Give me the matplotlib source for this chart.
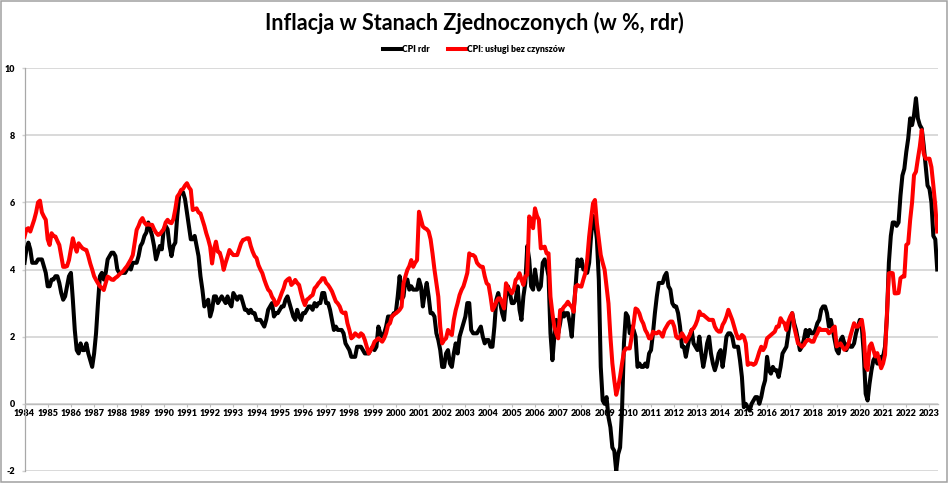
import matplotlib
matplotlib.use('Agg')
import matplotlib.pyplot as plt
import numpy as np
from matplotlib.patches import Rectangle
from matplotlib.lines import Line2D

plt.rcParams['font.family'] = ['Lato', 'DejaVu Sans']

title = 'Inflacja w Stanach Zjednoczonych (w %, rdr)'
series_names = ['CPI rdr', 'CPI: usługi bez czynszów']
start_year = 1984  # monthly data, January 1984 - May 2023

cpi_rdr = [
    4.2, 4.6, 4.8, 4.6, 4.2, 4.2, 4.2, 4.3, 4.3, 4.3, 4.1, 3.9,   # 1984
    3.5, 3.5, 3.7, 3.7, 3.8, 3.8, 3.6, 3.3, 3.1, 3.2, 3.5, 3.8,   # 1985
    3.9, 3.1, 2.2, 1.6, 1.5, 1.8, 1.6, 1.6, 1.8, 1.5, 1.3, 1.1,   # 1986
    1.5, 2.1, 3.0, 3.8, 3.9, 3.7, 3.9, 4.3, 4.4, 4.5, 4.5, 4.4,   # 1987
    4.0, 3.9, 3.9, 3.9, 3.9, 4.0, 4.1, 4.0, 4.2, 4.2, 4.2, 4.4,   # 1988
    4.7, 4.8, 5.0, 5.1, 5.4, 5.2, 5.0, 4.7, 4.3, 4.5, 4.7, 4.6,   # 1989
    5.2, 5.3, 5.2, 4.7, 4.4, 4.7, 4.8, 5.6, 6.2, 6.3, 6.3, 6.1,   # 1990
    5.7, 5.3, 4.9, 4.9, 5.0, 4.7, 4.4, 3.8, 3.4, 2.9, 3.0, 3.1,   # 1991
    2.6, 2.8, 3.2, 3.2, 3.0, 3.1, 3.2, 3.1, 3.0, 3.2, 3.0, 2.9,   # 1992
    3.3, 3.2, 3.1, 3.2, 3.2, 3.0, 2.8, 2.8, 2.7, 2.8, 2.7, 2.7,   # 1993
    2.5, 2.5, 2.5, 2.4, 2.3, 2.5, 2.8, 2.9, 3.0, 2.6, 2.7, 2.7,   # 1994
    2.8, 2.9, 2.9, 3.1, 3.2, 3.0, 2.8, 2.6, 2.5, 2.8, 2.6, 2.5,   # 1995
    2.7, 2.7, 2.8, 2.9, 2.9, 2.8, 3.0, 2.9, 3.0, 3.0, 3.3, 3.3,   # 1996
    3.0, 3.0, 2.8, 2.5, 2.2, 2.3, 2.2, 2.2, 2.2, 2.1, 1.8, 1.7,   # 1997
    1.6, 1.4, 1.4, 1.4, 1.7, 1.7, 1.7, 1.6, 1.5, 1.5, 1.5, 1.6,   # 1998
    1.7, 1.6, 1.7, 2.3, 2.1, 2.0, 2.1, 2.3, 2.6, 2.6, 2.6, 2.7,   # 1999
    2.7, 3.2, 3.8, 3.1, 3.2, 3.7, 3.7, 3.4, 3.5, 3.4, 3.4, 3.4,   # 2000
    3.7, 3.5, 2.9, 3.3, 3.6, 3.2, 2.7, 2.7, 2.6, 2.1, 1.9, 1.6,   # 2001
    1.1, 1.1, 1.5, 1.6, 1.2, 1.1, 1.5, 1.8, 1.5, 2.0, 2.2, 2.4,   # 2002
    2.6, 3.0, 3.0, 2.2, 2.1, 2.1, 2.1, 2.2, 2.3, 2.0, 1.8, 1.9,   # 2003
    1.9, 1.7, 1.7, 2.3, 3.1, 3.3, 3.0, 2.7, 2.5, 3.2, 3.5, 3.3,   # 2004
    3.0, 3.0, 3.1, 3.5, 2.8, 2.5, 3.2, 3.6, 4.7, 4.3, 3.5, 3.4,   # 2005
    4.0, 3.6, 3.4, 3.5, 4.2, 4.3, 4.1, 3.8, 2.1, 1.3, 2.0, 2.5,   # 2006
    2.1, 2.4, 2.8, 2.6, 2.7, 2.7, 2.4, 2.0, 2.8, 3.5, 4.3, 4.1,   # 2007
    4.3, 4.0, 4.0, 3.9, 4.2, 5.0, 5.6, 5.4, 4.9, 3.7, 1.1, 0.1,   # 2008
    0.0, 0.2, -0.4, -0.7, -1.3, -1.4, -2.0, -1.5, -1.3, -0.2, 1.8, 2.7,  # 2009
    2.6, 2.1, 2.3, 2.2, 2.0, 1.1, 1.2, 1.1, 1.1, 1.2, 1.1, 1.5,   # 2010
    1.6, 2.1, 2.7, 3.2, 3.6, 3.6, 3.6, 3.8, 3.9, 3.5, 3.4, 3.0,   # 2011
    2.9, 2.9, 2.7, 2.3, 1.7, 1.7, 1.4, 1.7, 2.0, 2.2, 1.8, 1.7,   # 2012
    1.6, 2.0, 1.5, 1.1, 1.4, 1.8, 2.0, 1.5, 1.2, 1.0, 1.2, 1.5,   # 2013
    1.6, 1.1, 1.5, 2.0, 2.1, 2.1, 2.0, 1.7, 1.7, 1.7, 1.3, 0.8,   # 2014
    -0.1, 0.0, -0.1, -0.2, 0.0, 0.1, 0.2, 0.2, 0.0, 0.2, 0.5, 0.7,  # 2015
    1.4, 1.0, 0.9, 1.1, 1.0, 1.0, 0.8, 1.1, 1.5, 1.6, 1.7, 2.1,   # 2016
    2.5, 2.7, 2.4, 2.2, 1.9, 1.6, 1.7, 1.9, 2.2, 2.0, 2.2, 2.1,   # 2017
    2.1, 2.2, 2.4, 2.5, 2.8, 2.9, 2.9, 2.7, 2.3, 2.5, 2.2, 1.9,   # 2018
    1.6, 1.5, 1.9, 2.0, 1.8, 1.6, 1.8, 1.7, 1.7, 1.8, 2.1, 2.3,   # 2019
    2.5, 2.3, 1.5, 0.3, 0.1, 0.6, 1.0, 1.3, 1.4, 1.2, 1.2, 1.4,   # 2020
    1.4, 1.7, 2.6, 4.2, 5.0, 5.4, 5.4, 5.3, 5.4, 6.2, 6.8, 7.0,   # 2021
    7.5, 7.9, 8.5, 8.3, 8.6, 9.1, 8.5, 8.3, 8.2, 7.7, 7.1, 6.5,   # 2022
    6.4, 6.0, 5.0, 4.9, 4.0,                                      # 2023
]

cpi_uslugi = [
    4.98, 5.2, 5.23, 5.13, 5.3, 5.48, 5.7, 6.0, 6.05, 5.7, 5.58, 5.48,   # 1984
    4.9, 4.73, 5.08, 5.0, 4.98, 4.85, 4.73, 4.4, 4.08, 4.08, 4.1, 4.28,  # 1985
    4.6, 4.93, 4.7, 4.53, 4.78, 4.7, 4.63, 4.6, 4.58, 4.4, 4.18, 4.0,    # 1986
    3.8, 3.69, 3.59, 3.5, 3.45, 3.39, 3.6, 3.79, 3.75, 3.7, 3.69, 3.75,  # 1987
    3.79, 3.85, 3.9, 3.95, 4.03, 4.1, 4.2, 4.3, 4.43, 4.8, 5.18, 5.3,    # 1988
    5.45, 5.53, 5.4, 5.33, 5.35, 5.33, 5.33, 5.2, 5.1, 5.03, 5.05, 5.13, # 1989
    5.2, 5.4, 5.48, 5.4, 5.38, 5.5, 5.8, 6.17, 6.25, 6.37, 6.4, 6.5,     # 1990
    6.57, 6.45, 6.37, 5.77, 5.8, 5.82, 5.7, 5.67, 5.48, 5.3, 5.08, 4.9,  # 1991
    4.68, 4.18, 4.6, 4.83, 4.53, 4.5, 4.3, 3.99, 4.2, 4.38, 4.58, 4.5,   # 1992
    4.43, 4.43, 4.43, 4.6, 4.78, 4.88, 4.9, 4.93, 4.93, 4.7, 4.53, 4.4,  # 1993
    4.34, 4.13, 4.0, 3.89, 3.7, 3.54, 3.4, 3.34, 3.19, 3.1, 2.94, 3.0,   # 1994
    3.14, 3.3, 3.44, 3.64, 3.7, 3.74, 3.54, 3.6, 3.69, 3.6, 3.54, 3.3,   # 1995
    3.09, 2.94, 3.1, 3.14, 3.2, 3.24, 3.44, 3.5, 3.59, 3.65, 3.74, 3.74, # 1996
    3.6, 3.54, 3.45, 3.35, 3.2, 3.05, 2.99, 2.9, 2.74, 2.7, 2.72, 2.4,   # 1997
    2.2, 1.95, 2.0, 2.1, 2.05, 2.0, 2.1, 2.05, 1.9, 1.7, 1.5, 1.6,       # 1998
    1.7, 1.85, 1.9, 1.95, 1.9, 1.85, 1.95, 2.1, 2.34, 2.4, 2.6, 2.65,    # 1999
    2.7, 2.74, 2.8, 2.89, 3.59, 3.8, 3.99, 4.1, 4.28, 4.08, 4.2, 4.28,   # 2000
    5.72, 5.5, 5.28, 5.23, 5.2, 5.13, 4.9, 4.48, 4.0, 3.59, 3.19, 2.29,  # 2001
    1.8, 1.9, 1.95, 2.2, 2.1, 2.05, 2.5, 2.79, 3.0, 3.24, 3.39, 3.5,     # 2002
    3.69, 3.9, 4.48, 4.43, 4.43, 4.38, 4.2, 4.13, 4.08, 4.08, 3.8, 3.59, # 2003
    3.54, 3.2, 2.79, 2.9, 3.04, 3.14, 3.14, 2.99, 2.84, 3.59, 3.45, 3.39,  # 2004
    3.29, 3.4, 3.69, 3.75, 3.89, 3.7, 3.54, 3.79, 3.85, 5.58, 5.48, 5.23,  # 2005
    5.82, 5.6, 5.48, 4.63, 4.65, 4.68, 4.48, 4.48, 3.19, 2.7, 2.29, 2.1,   # 2006
    1.95, 2.79, 2.8, 2.89, 2.95, 3.04, 2.95, 2.89, 2.74, 3.49, 3.54, 3.5,  # 2007
    3.49, 3.7, 3.89, 4.3, 4.98, 5.5, 5.97, 6.07, 5.38, 4.9, 4.43, 4.2,     # 2008
    3.99, 3.5, 2.99, 2.0, 1.21, 0.7, 0.27, 0.5, 0.81, 1.2, 1.55, 1.65,     # 2009
    1.65, 1.65, 2.0, 2.39, 2.84, 2.8, 2.69, 2.5, 2.39, 2.2, 2.1, 1.95,     # 2010
    1.95, 2.15, 2.1, 2.1, 2.15, 2.1, 2.0, 2.2, 2.3, 2.4, 2.45, 2.45,       # 2011
    2.3, 2.0, 1.95, 2.0, 2.1, 2.0, 1.85, 1.95, 2.05, 2.2, 2.25, 2.35,      # 2012
    2.5, 2.75, 2.65, 2.65, 2.6, 2.55, 2.5, 2.5, 2.5, 2.3, 2.2, 2.15,       # 2013
    2.15, 2.35, 2.45, 2.6, 2.8, 2.65, 2.5, 2.3, 2.1, 1.95, 1.95, 2.05,     # 2014
    2.0, 1.8, 1.16, 1.2, 1.2, 1.16, 1.2, 1.36, 1.55, 1.7, 1.6, 1.7,        # 2015
    1.95, 2.0, 2.05, 2.1, 2.15, 2.3, 2.3, 2.55, 2.45, 2.4, 2.2, 2.45,      # 2016
    2.6, 2.7, 2.3, 2.05, 1.8, 1.76, 1.7, 1.75, 1.85, 1.9, 1.9, 1.85,       # 2017
    1.85, 2.0, 2.1, 2.25, 2.2, 2.2, 2.2, 2.2, 2.1, 2.15, 2.25, 2.3,        # 2018
    1.71, 1.75, 1.8, 1.7, 1.61, 1.65, 1.76, 2.0, 2.2, 2.4, 2.3, 2.3,       # 2019
    2.4, 2.5, 2.1, 1.11, 1.01, 1.71, 1.8, 1.6, 1.41, 1.51, 1.3, 1.06,      # 2020
    1.2, 1.46, 2.7, 3.89, 3.9, 3.89, 3.29, 3.29, 3.3, 3.74, 3.79, 3.79,    # 2021
    4.73, 4.78, 5.47, 6.0, 6.81, 6.91, 7.3, 7.66, 8.15, 7.46, 7.3, 7.3,    # 2022
    7.3, 7.05, 6.5, 5.9, 5.13,                                              # 2023
]

year_labels = list(range(1984, 2024))
y_ticks = [-2, 0, 2, 4, 6, 8, 10]

W, H = 948, 483
fig = plt.figure(figsize=(W / 100, H / 100), dpi=100)
fig.patch.set_facecolor('white')

ax = fig.add_axes([24.5 / W, 12 / H, 913.8 / W, 403 / H])

x_black = start_year + np.arange(len(cpi_rdr)) / 12.0
x_red = start_year + np.arange(len(cpi_uslugi)) / 12.0

ax.plot(x_black, cpi_rdr, color='black', lw=2.9, solid_joinstyle='round',
        label=series_names[0], zorder=3)
ax.plot(x_red, cpi_uslugi, color='#ff0000', lw=2.9, solid_joinstyle='round',
        label=series_names[1], zorder=4)

ax.set_xlim(1984, 2023.38)
ax.set_ylim(-2, 10)
ax.set_yticks(y_ticks)
ax.set_yticklabels([str(v) for v in y_ticks])
ax.set_xticks(year_labels)
ax.set_xticklabels([str(y) for y in year_labels])

ax.grid(axis='y', color='#d0d0d0', lw=1.1)
ax.grid(axis='x', visible=False)
ax.set_axisbelow(True)

for s in ['top', 'right']:
    ax.spines[s].set_visible(False)
ax.spines['bottom'].set_position(('data', 0))
ax.spines['bottom'].set_color('#bdbdbd')
ax.spines['bottom'].set_linewidth(1.0)
ax.spines['left'].set_color('#a8a8a8')
ax.spines['left'].set_linewidth(0.9)

ax.tick_params(axis='x', direction='out', length=2.2, width=0.8, color='#bdbdbd',
               pad=1.5, labelsize=6.5, labelcolor='black')
ax.tick_params(axis='y', direction='out', length=2.5, width=1.0, color='#d0d0d0',
               pad=4.5, labelsize=6.5, labelcolor='black')
for lab in ax.get_xticklabels() + ax.get_yticklabels():
    lab.set_fontweight('heavy')

fig.text(0.5, 1 - 23 / H, title, ha='center', va='center',
         fontsize=15.5, fontweight='bold', color='black')

handles = [Line2D([], [], color='black', lw=2.9),
           Line2D([], [], color='#ff0000', lw=2.9)]
fig.legend(handles, series_names, loc='center',
           bbox_to_anchor=(474 / W, 1 - 50 / H), ncol=2, frameon=False,
           prop={'weight': 'heavy', 'size': 6.2},
           handlelength=2.1, handletextpad=0.1, columnspacing=2.2,
           borderaxespad=0, borderpad=0)

fig.add_artist(Rectangle((0.6 / W, 0.6 / H), 1 - 1.6 / W, 1 - 1.6 / H,
                         transform=fig.transFigure, fill=False,
                         edgecolor='#a0a0a0', lw=1.1))

fig.savefig('out.png', dpi=100, facecolor='white')
